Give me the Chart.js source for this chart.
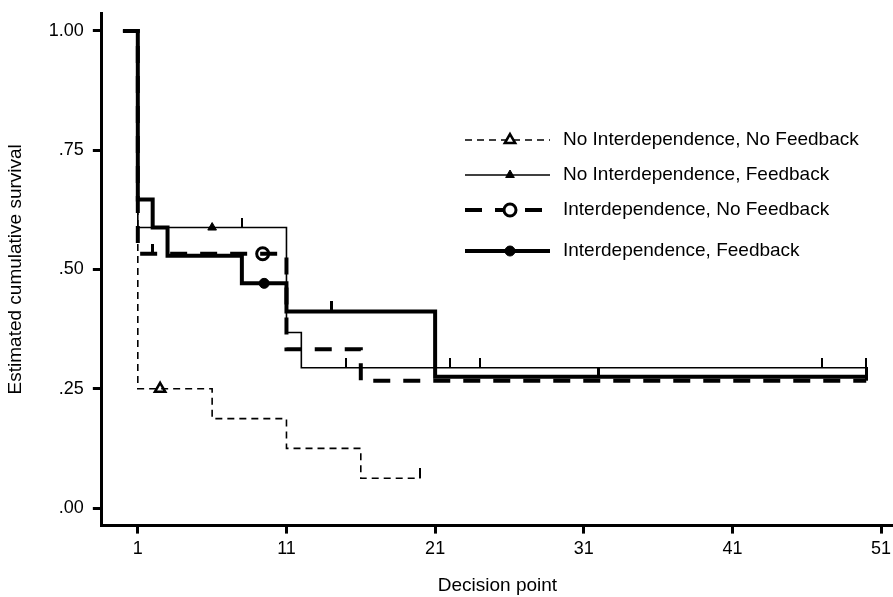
<!DOCTYPE html>
<html>
<head>
<meta charset="utf-8">
<script src="https://cdn.jsdelivr.net/npm/chart.js@4.4.1/dist/chart.umd.min.js"></script>
<style>
html, body { margin: 0; padding: 0; background: #fff; }
#wrap { width: 893px; height: 597px; }
</style>
</head>
<body>
<div id="wrap"><canvas id="chartSurvival"></canvas></div>
<script>
const seriesNames = [
    'No Interdependence, No Feedback',
    'No Interdependence, Feedback',
    'Interdependence, No Feedback',
    'Interdependence, Feedback'
];

// step times and the survival estimate from that time on
const timesNoIntNoFb = [0, 1, 6, 11, 16, 20];
const survNoIntNoFb = [1, 0.25, 0.1875, 0.125, 0.0625, 0.0625];
const timesNoIntFb = [0, 1, 11, 12, 50];
const survNoIntFb = [1, 0.588, 0.368, 0.294, 0.294];
const timesIntNoFb = [0, 1, 11, 16, 50];
const survIntNoFb = [1, 0.533, 0.333, 0.267, 0.267];
const timesIntFb = [0, 1, 2, 3, 8, 11, 21, 50];
const survIntFb = [1, 0.647, 0.588, 0.529, 0.471, 0.412, 0.275, 0.275];

// censored cases (decision point)
const censorNoIntNoFb = [20];
const censorNoIntFb = [8, 15, 22, 24, 47, 50];
const censorIntNoFb = [2, 50];
const censorIntFb = [14, 32, 50];

// decision point where each series symbol is shown
const markerX = [2.5, 6, 9.4, 9.5];

const xTicks = [1, 11, 21, 31, 41, 51];
const yTicks = [0, 0.25, 0.5, 0.75, 1];
const yTickLabels = ['.00', '.25', '.50', '.75', '1.00'];

const FONT = '"Liberation Sans", Arial, Helvetica, sans-serif';

// look-up of the step function
function survAt(times, surv, t) {
    let v = surv[0];
    for (let i = 0; i < times.length; i++) {
        if (times[i] <= t) v = surv[i];
    }
    return v;
}

// small upward tick used for censored cases
function makeTick(w, h) {
    const c = document.createElement('canvas');
    c.width = w;
    c.height = h * 2;
    const g = c.getContext('2d');
    g.fillStyle = '#000';
    g.fillRect(0, 0, w, h);
    return c;
}

const series = [
    { times: timesNoIntNoFb, surv: survNoIntNoFb, censor: censorNoIntNoFb,
      width: 1.6, dash: [7, 5], tick: makeTick(2, 10),
      point: { style: 'triangle', radius: 6, fill: '#fff', border: 2.5 } },
    { times: timesNoIntFb, surv: survNoIntFb, censor: censorNoIntFb,
      width: 1.6, dash: [], tick: makeTick(2, 10),
      point: { style: 'triangle', radius: 5, fill: '#000', border: 1 } },
    { times: timesIntNoFb, surv: survIntNoFb, censor: censorIntNoFb,
      width: 4, dash: [17, 13], tick: makeTick(3, 10),
      point: { style: 'circle', radius: 6, fill: '#fff', border: 3 } },
    { times: timesIntFb, surv: survIntFb, censor: censorIntFb,
      width: 4, dash: [], tick: makeTick(3, 10),
      point: { style: 'circle', radius: 5, fill: '#000', border: 1 } }
];

const datasets = [];
series.forEach((s, i) => {
    datasets.push({
        label: seriesNames[i],
        data: s.times.map((t, k) => ({ x: t, y: s.surv[k] })),
        stepped: true,
        borderColor: '#000',
        borderWidth: s.width,
        borderDash: s.dash,
        borderCapStyle: 'butt',
        pointRadius: 0,
        fill: false
    });
    datasets.push({
        label: seriesNames[i] + ' censored',
        data: s.censor.map(t => ({ x: t, y: survAt(s.times, s.surv, t) })),
        showLine: false,
        pointStyle: s.tick,
        pointRadius: 5
    });
    datasets.push({
        label: seriesNames[i] + ' symbol',
        data: [{ x: markerX[i], y: survAt(s.times, s.surv, markerX[i]) }],
        showLine: false,
        pointStyle: s.point.style,
        pointRadius: s.point.radius,
        pointBackgroundColor: s.point.fill,
        pointBorderColor: '#000',
        pointBorderWidth: s.point.border
    });
});

// legend drawn inside the plot, line sample with symbol in the middle
const insideLegend = {
    id: 'insideLegend',
    afterDraw(chart) {
        const ctx = chart.ctx;
        const rowsY = [140, 175, 210, 251];
        ctx.save();
        series.forEach((s, i) => {
            const y = rowsY[i];
            ctx.strokeStyle = '#000';
            ctx.lineWidth = s.width;
            ctx.setLineDash(s.dash);
            ctx.beginPath();
            ctx.moveTo(465, y);
            ctx.lineTo(550, y);
            ctx.stroke();
            ctx.setLineDash([]);
            ctx.fillStyle = s.point.fill;
            ctx.lineWidth = s.point.border;
            Chart.helpers.drawPoint(ctx, {
                pointStyle: s.point.style,
                radius: s.point.radius,
                borderWidth: s.point.border,
                rotation: 0
            }, 510, y);
            ctx.fillStyle = '#000';
            ctx.font = '19px ' + FONT;
            ctx.textBaseline = 'middle';
            ctx.textAlign = 'left';
            ctx.fillText(seriesNames[i], 563, y);
        });
        ctx.restore();
    }
};

// no extra room around the plot for half-labels at the ends
function noEndPadding(axis) {
    axis.paddingTop = 0;
    axis.paddingBottom = 0;
    axis.paddingLeft = 0;
    axis.paddingRight = 0;
}

const ctx = document.getElementById('chartSurvival').getContext('2d');
const myChart = new Chart(ctx, {
    type: 'line',
    data: { datasets: datasets },
    plugins: [insideLegend],
    options: {
        animation: false,
        responsive: true,
        maintainAspectRatio: false,
        layout: { autoPadding: false, padding: { left: 4, top: 13, right: 0, bottom: 0 } },
        plugins: {
            legend: { display: false },
            tooltip: { enabled: false }
        },
        scales: {
            x: {
                type: 'linear',
                min: -1.42,
                max: 51.8,
                afterBuildTicks: axis => { axis.ticks = xTicks.map(v => ({ value: v })); },
                afterFit: noEndPadding,
                ticks: {
                    color: '#000',
                    font: { family: FONT, size: 18 },
                    padding: 5,
                    maxRotation: 0,
                    autoSkip: false,
                    callback: v => String(v)
                },
                grid: { drawOnChartArea: false, tickLength: 8, tickWidth: 3, tickColor: '#000' },
                border: { color: '#000', width: 3 },
                title: {
                    display: true,
                    text: 'Decision point',
                    color: '#000',
                    font: { family: FONT, size: 19 },
                    padding: { top: 9, bottom: 0 }
                }
            },
            y: {
                type: 'linear',
                min: -0.0368,
                max: 1.0377,
                afterBuildTicks: axis => { axis.ticks = yTicks.map(v => ({ value: v })); },
                afterFit: noEndPadding,
                ticks: {
                    color: '#000',
                    font: { family: FONT, size: 18 },
                    padding: 9,
                    callback: (v, i) => yTickLabels[i]
                },
                grid: { drawOnChartArea: false, tickLength: 9, tickWidth: 3, tickColor: '#000' },
                border: { color: '#000', width: 3 },
                title: {
                    display: true,
                    text: 'Estimated cumulative survival',
                    color: '#000',
                    font: { family: FONT, size: 19 },
                    padding: { top: 0, bottom: 13 }
                }
            }
        }
    }
});
</script>
</body>
</html>
